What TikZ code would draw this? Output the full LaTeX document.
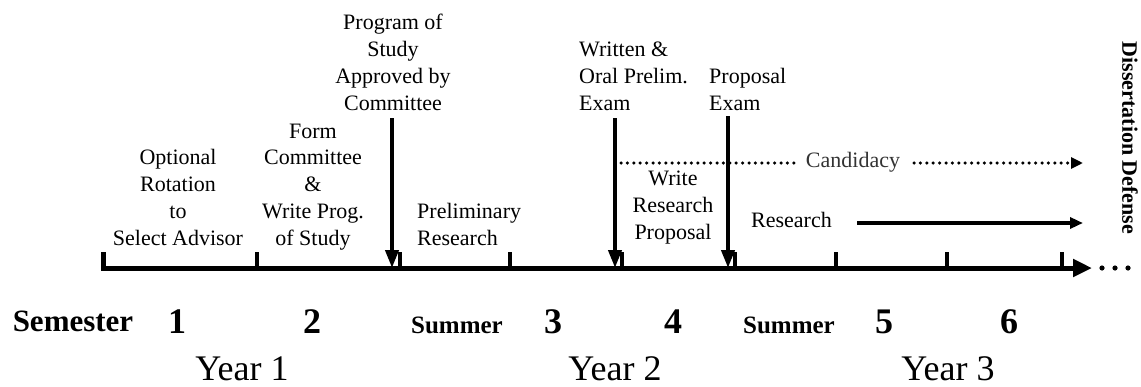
\documentclass[tikz,border=0pt]{standalone}
\usepackage{fontspec}
\setmainfont{Liberation Serif}
\usetikzlibrary{arrows.meta}
\begin{document}
\begin{tikzpicture}[x=1pt,y=-1pt,
  lbl/.style={font=\fontsize{22}{26.7}\selectfont, inner sep=0pt, align=center},
  lbll/.style={lbl, align=left, anchor=base west},
  semfont/.style={font=\fontsize{31}{34}\selectfont\bfseries, inner sep=0pt, anchor=base},
  numfont/.style={font=\fontsize{36}{40}\selectfont\bfseries, inner sep=0pt, anchor=base},
  sumfont/.style={font=\fontsize{25}{28}\selectfont\bfseries, inner sep=0pt, anchor=base},
  yearfont/.style={font=\fontsize{36}{40}\selectfont, inner sep=0pt, anchor=base, text depth=0pt},
  axis/.style={line width=5pt, -{Triangle[length=19pt,width=17pt]}},
  tick/.style={line width=4pt},
  down/.style={line width=4pt, -{Triangle[length=18pt,width=13pt]}},
  dots/.style={line width=3.5pt, line cap=round, dash pattern=on 0pt off 6.4pt},
  dotarrow/.style={dots, -{Triangle[length=12pt,width=11pt]}},
  solidarrow/.style={line width=4.5pt, -{Triangle[length=13pt,width=11pt]}}
]
\useasboundingbox (0,0) rectangle (1141,386);

% axis
\coordinate (a0) at (103,252);
\coordinate (a1) at (103,268);
\coordinate (aend) at (1092,268);
\draw[axis, line join=miter] (a0) -- (a1) -- (aend);
\foreach \x [count=\i] in {257,400,510,622,735,836,947,1062}{
  \coordinate (t\i) at (\x,268);
  \draw[tick] (t\i) -- ++(0,-16);
}
\foreach \x in {1102,1115,1128}{
  \fill (\x,268) circle (2.6pt);
}

% labels above
\node[lbl, anchor=base] (opt) at (178,245) {Optional\\Rotation\\to\\Select Advisor};
\node[lbl, anchor=base] (form) at (313,245) {Form\\Committee\\\&\\Write Prog.\\of Study};
\node[lbl, anchor=base] (prog) at (393,110) {Program of\\Study\\Approved by\\Committee};
\node[lbll] (prelim) at (417,245) {Preliminary\\Research};
\node[lbll] (written) at (579,110) {Written \&\\Oral Prelim.\\Exam};
\node[lbll] (propexam) at (709,110) {Proposal\\Exam};
\node[lbl, anchor=base] (wrp) at (673,239) {Write\\Research\\Proposal};
\node[lbll] (res) at (751,227) {Research};
\node[lbl, anchor=base, text=black!80] (cand) at (853,167) {Candidacy};

% down arrows
\coordinate (p1) at (392,118); \coordinate (p1b) at (392,268);
\coordinate (p2) at (615,118); \coordinate (p2b) at (615,268);
\coordinate (p3) at (728,116); \coordinate (p3b) at (728,268);
\draw[down] (p1) -- (p1b);
\draw[down] (p2) -- (p2b);
\draw[down] (p3) -- (p3b);

% candidacy
\coordinate (c0) at (621,163);
\coordinate (c1) at (800,163);
\coordinate (c2) at (914,163);
\coordinate (c3) at (1083,163);
\draw[dots] (c0) -- (c1);
\draw[dotarrow] (c2) -- (c3);

% research arrow
\coordinate (r0) at (857,223);
\coordinate (r1) at (1083,223);
\draw[solidarrow] (r0) -- (r1);

% dissertation defense
\node[font=\fontsize{22}{24}\selectfont\bfseries, rotate=-90, inner sep=0pt] (dd) at (1130,138) {Dissertation Defense};

% semesters
\node[semfont] (sem) at (73,331) {Semester};
\node[numfont] (s1) at (177,333) {1};
\node[numfont] (s2) at (312,333) {2};
\node[sumfont] (su1) at (457,333) {Summer};
\node[numfont] (s3) at (553,333) {3};
\node[numfont] (s4) at (673,333) {4};
\node[sumfont] (su2) at (789,333) {Summer};
\node[numfont] (s5) at (884,333) {5};
\node[numfont] (s6) at (1009,333) {6};

% years
\node[yearfont] (y1) at (242,380) {Year 1};
\node[yearfont] (y2) at (615,380) {Year 2};
\node[yearfont] (y3) at (948,380) {Year 3};
\end{tikzpicture}
\end{document}
